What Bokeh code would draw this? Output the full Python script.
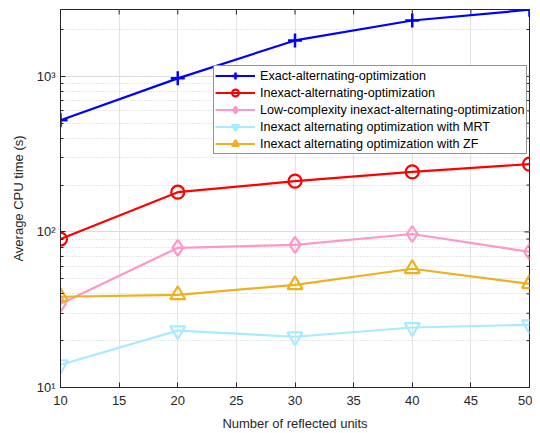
import math
from bokeh.plotting import figure
from bokeh.models import Range1d, FixedTicker, LogTicker, Legend, LegendItem
from bokeh.embed import file_html
from bokeh.resources import INLINE

# ---- data ----
units = [10, 20, 30, 40, 50]
exact_ao = [522, 971, 1702, 2285, 2681]
inexact_ao = [90, 180, 212, 243, 273]
lowcomp_ao = [34.5, 79, 82.6, 97, 74.5]
mrt_ao = [14.0, 23.2, 21.2, 24.3, 25.3]
zf_ao = [38.3, 39.4, 45.7, 58, 46.4]

x_ticks = [10, 15, 20, 25, 30, 35, 40, 45, 50]
y_major = [10, 100, 1000]
y_tick_labels = {10: "10¹", 100: "10²", 1000: "10³"}

series = [
    ("Exact-alternating-optimization", exact_ao, "#0000FF", "cross", 14),
    ("Inexact-alternating-optimization", inexact_ao, "#FF0000", "circle", 13),
    ("Low-complexity inexact-alternating-optimization", lowcomp_ao, "#FF96C8", "diamond", 16),
    ("Inexact alternating optimization with MRT", mrt_ao, "#A8EAFF", "inverted_triangle", 15),
    ("Inexact alternating optimization with ZF", zf_ao, "#EDB120", "triangle", 15),
]

FONT = "Liberation Sans"
AX = "#262626"
Y_MIN, Y_MAX = 10, 2690
X_MIN, X_MAX = 10, 50

p = figure(width=532, height=433, y_axis_type="log",
           x_range=Range1d(X_MIN, X_MAX), y_range=Range1d(Y_MIN, Y_MAX),
           output_backend="svg", toolbar_location=None,
           min_border_left=60, min_border_right=3, min_border_top=9, min_border_bottom=46,
           background_fill_color="white", border_fill_color="white")
p.outline_line_color = AX
p.outline_line_width = 1

# axes styling
p.xaxis.ticker = FixedTicker(ticks=x_ticks)
p.yaxis.ticker = LogTicker(num_minor_ticks=10)
p.yaxis.major_label_overrides = y_tick_labels
for ax in (p.xaxis[0], p.yaxis[0]):
    ax.axis_line_color = AX
    ax.major_tick_line_color = AX
    ax.minor_tick_line_color = AX
    ax.major_tick_in = 5
    ax.major_tick_out = 0
    ax.minor_tick_in = 3
    ax.minor_tick_out = 0
    ax.major_label_text_font = FONT
    ax.major_label_text_font_size = "13px"
    ax.major_label_text_color = AX
    ax.axis_label_text_font = FONT
    ax.axis_label_text_font_size = "13px"
    ax.axis_label_text_font_style = "normal"
    ax.axis_label_text_color = AX
p.xaxis.minor_tick_line_color = None
p.xaxis.axis_label = "Number of reflected units"
p.yaxis.axis_label = "Average CPU time (s)"
p.xaxis.major_label_standoff = 8
p.xaxis.axis_label_standoff = 8
p.yaxis.major_label_standoff = 5
p.yaxis.axis_label_standoff = 8

# grids
p.xgrid.ticker = FixedTicker(ticks=x_ticks)
p.xgrid.grid_line_color = "#E3E3E3"
p.ygrid.grid_line_color = "#DCDCDC"
p.ygrid.minor_grid_line_color = "#CFCFCF"
p.ygrid.minor_grid_line_dash = "1 2"

# box ticks on the top and right edges (only the inner half shows, clipped by frame)
p.scatter(x_ticks, [Y_MAX] * len(x_ticks), marker="dash", angle=math.pi / 2,
          size=10, line_color=AX, line_width=1)
y_minor = [m * d for d in y_major for m in range(2, 10) if m * d < Y_MAX]
p.scatter([X_MAX] * len(y_major), y_major, marker="dash", size=10, line_color=AX, line_width=1)
p.scatter([X_MAX] * len(y_minor), y_minor, marker="dash", size=6, line_color=AX, line_width=1)

items = []
for name, vals, color, marker, size in series:
    r1 = p.line(units, vals, line_color=color, line_width=2.2)
    if marker == "cross":
        r2 = p.scatter(units, vals, marker=marker, size=size, line_color=color, line_width=2.5)
    else:
        r2 = p.scatter(units, vals, marker=marker, size=size, line_color=color,
                       fill_color=None, line_width=2.2)
    items.append(LegendItem(label=name, renderers=[r1, r2]))

legend = Legend(items=items, location=(153, 233),
                label_text_font=FONT, label_text_font_size="12.6px", label_text_color="black",
                border_line_color=AX, border_line_width=1, background_fill_alpha=1,
                glyph_width=40, glyph_height=17, label_height=17, spacing=0,
                padding=1, margin=0, label_standoff=5)
p.add_layout(legend, "center")

open("out.html", "w").write(file_html(p, INLINE))
